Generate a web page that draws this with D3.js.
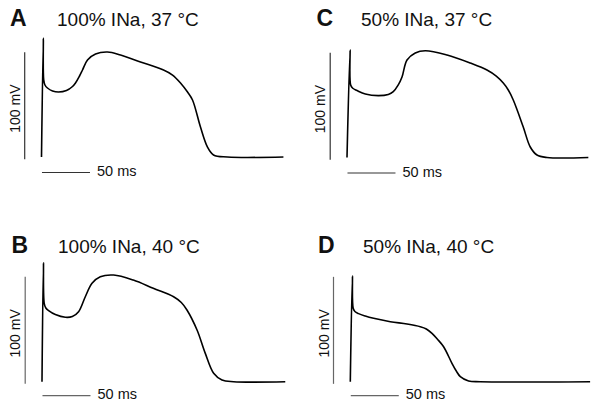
<!DOCTYPE html>
<html>
<head>
<meta charset="utf-8">
<script src="https://cdn.jsdelivr.net/npm/d3@7"></script>
<style>
  body { margin: 0; background: #fff; }
  svg { display: block; font-family: "Liberation Sans", Arial, sans-serif; }
</style>
</head>
<body>
<div id="chart"></div>
<script>
// action potential traces, [time ms, voltage mV]
var traceA = [[0,-85],[1.9,26.2],[2.3,-13],[3.6,-17.7],[6.2,-20.5],[11.5,-23.3],[17.7,-24.3],[26,-22.9],
  [32.3,-19.1],[35.4,-15.8],[39.6,-9.3],[42.7,-3.7],[47.9,5.7],[56.3,11.3],[68.8,13.1],[82.3,10.3],
  [103.1,3.8],[127.1,-3.7],[136.5,-8.4],[144.8,-15.8],[152.1,-24.3],[157.3,-31.7],[165.6,-57],
  [172.9,-75.7],[179.2,-83.1],[193.8,-85],[252,-85]]
var traceB = [[0,-85],[1.5,26.2],[2.3,-11.7],[4,-16.1],[6.9,-18.5],[13.9,-22.2],[24.3,-24.8],[31.6,-24.1],
  [38.1,-19.6],[45.1,-5.6],[52.1,7],[60.7,13.1],[74.6,14.7],[95.1,10],[115.9,2.3],[137.1,-5.6],
  [145.1,-11],[151,-18],[161.5,-36.7],[170.1,-58.5],[178.8,-77.1],[187.5,-83.4],[199.6,-85],[253.4,-85]]
var traceC = [[0,-85],[3.2,15.5],[3.8,-17.2],[6,-20.3],[10.4,-22.4],[19.1,-25.7],[32.6,-27.2],[43,-26.1],
  [48.2,-23.5],[53.4,-17.2],[57.3,-9.8],[62.5,6.1],[71.1,12.7],[81.6,14.8],[104.2,10.8],[128.4,3.3],
  [145.8,-3.2],[155.5,-8.9],[162.8,-15.4],[168,-21.9],[173.2,-31.3],[183.6,-56.5],[190.9,-75.2],
  [197.9,-82.7],[208.3,-85],[251.4,-85]]
var traceD = [[0,-85],[2.2,13.8],[3,-16.4],[4.8,-19.4],[8.6,-21.4],[15.6,-23.6],[24.3,-25.7],[41.7,-28.9],
  [59.1,-31.1],[72.9,-33.6],[79.2,-35.7],[85.1,-39.8],[90.6,-45.1],[97.2,-52.3],[105.9,-67.8],
  [110.4,-75],[114.6,-80.3],[123.2,-84.3],[135.4,-85],[249.8,-85]]

var letters = ["A", "B", "C", "D"]
var titles = ["100% INa, 37 °C", "100% INa, 40 °C", "50% INa, 37 °C", "50% INa, 40 °C"]
var traces = [traceA, traceB, traceC, traceD]

// scale bars
var barMV = 100, barMs = 50
var restV = -85

var width = 591, height = 403
var pxPerMs = 0.96, pxPerMV = 1.07

// panel placement (pixel origin of t=0, V=rest)
var layout = [
  {x0: 41.5, y0: 157, lx: 10, ly: 25.5, tx: 57, ty: 25.5, hv: -99.5},
  {x0: 42, y0: 381.7, lx: 11.5, ly: 253, tx: 58, ty: 253, hv: -98},
  {x0: 347, y0: 157.5, lx: 316.5, ly: 25.5, tx: 361, ty: 25.5, hv: -99.5},
  {x0: 350.3, y0: 381.7, lx: 318, ly: 253, tx: 363, ty: 253, hv: -98}
]
var barColors = ["#333", "#666", "#333", "#666"]

var svg = d3.select("#chart").append("svg")
  .attr("width", width)
  .attr("height", height)
svg.append("rect").attr("width", width).attr("height", height).attr("fill", "#fff")

layout.forEach(function(p, i) {
  var x = d3.scaleLinear().domain([0, 250]).range([p.x0, p.x0 + 250 * pxPerMs])
  var y = d3.scaleLinear().domain([restV, restV + 100]).range([p.y0, p.y0 - 100 * pxPerMV])
  var g = svg.append("g")

  var line = d3.line()
    .x(function(d) { return x(d[0]) })
    .y(function(d) { return y(d[1]) })
    .curve(d3.curveCatmullRom.alpha(0.5))
  g.append("path")
    .datum(traces[i])
    .attr("d", line)
    .attr("fill", "none")
    .attr("stroke", "#000")
    .attr("stroke-width", 1.6)
    .attr("stroke-linejoin", "round")

  // vertical bar (100 mV)
  var vb0 = -87, bt = -17.5
  g.append("line")
    .attr("x1", x(bt)).attr("x2", x(bt))
    .attr("y1", y(vb0)).attr("y2", y(vb0 + barMV))
    .attr("stroke", barColors[i]).attr("stroke-width", 1.2)
  g.append("text")
    .attr("transform", "translate(" + (x(bt) - 5) + "," + (y(vb0 + barMV / 2) + 3) + ") rotate(-90)")
    .attr("text-anchor", "middle")
    .attr("font-size", "14px")
    .attr("fill", "#111")
    .text("100 mV")

  // horizontal bar (50 ms)
  g.append("line")
    .attr("x1", x(0.5)).attr("x2", x(0.5 + barMs))
    .attr("y1", y(p.hv)).attr("y2", y(p.hv))
    .attr("stroke", barColors[i]).attr("stroke-width", 1.2)
  g.append("text")
    .attr("x", x(0.5 + barMs) + 7)
    .attr("y", y(p.hv) + 3.5)
    .attr("font-size", "14.5px")
    .attr("fill", "#111")
    .text("50 ms")

  g.append("text")
    .attr("x", p.lx).attr("y", p.ly)
    .attr("font-size", "23px")
    .attr("font-weight", "bold")
    .attr("fill", "#111")
    .text(letters[i])
  g.append("text")
    .attr("x", p.tx).attr("y", p.ty)
    .attr("font-size", "19px")
    .attr("fill", "#111")
    .text(titles[i])
})
</script>
</body>
</html>
